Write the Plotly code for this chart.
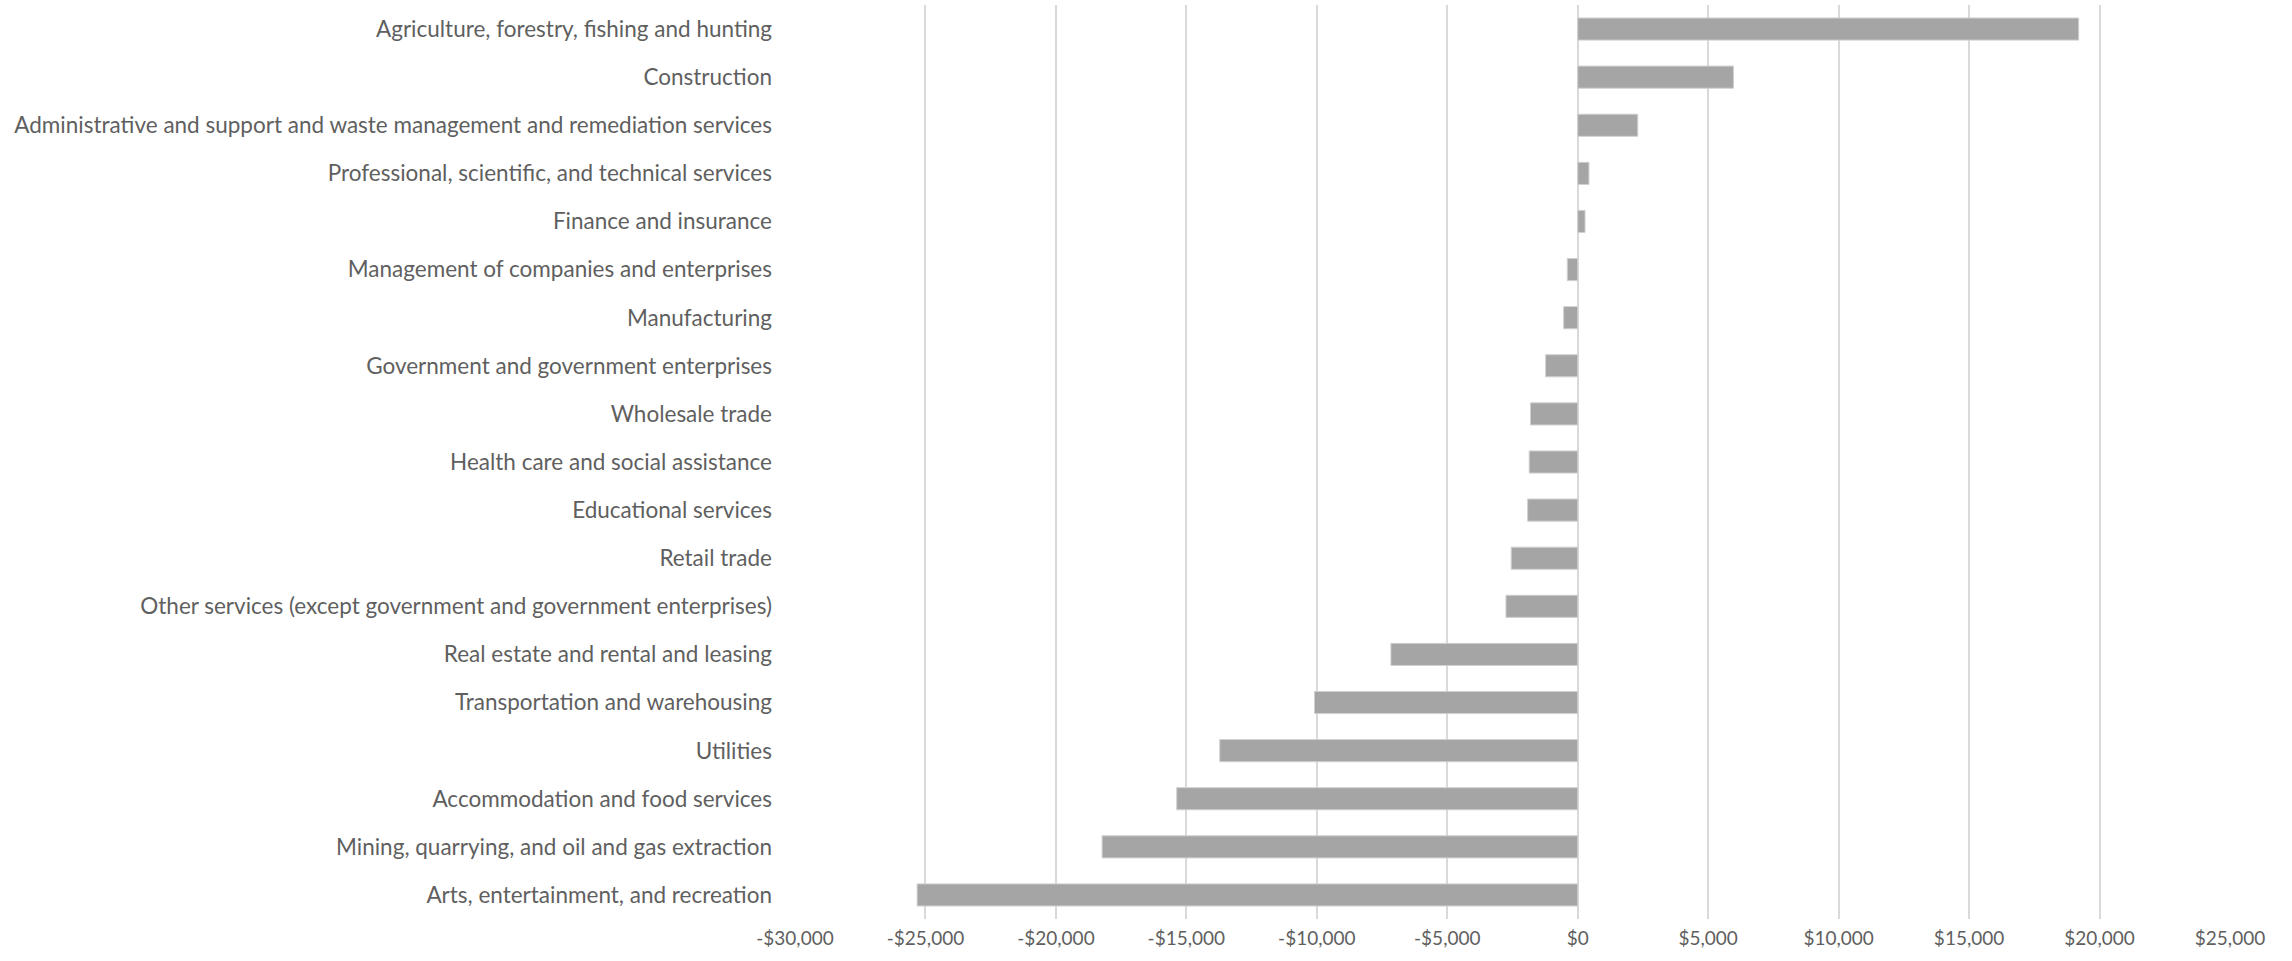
import plotly.graph_objects as go

industries = [
    "Agriculture, forestry, fishing and hunting",
    "Construction",
    "Administrative and support and waste management and remediation services",
    "Professional, scientific, and technical services",
    "Finance and insurance",
    "Management of companies and enterprises",
    "Manufacturing",
    "Government and government enterprises",
    "Wholesale trade",
    "Health care and social assistance",
    "Educational services",
    "Retail trade",
    "Other services (except government and government enterprises)",
    "Real estate and rental and leasing",
    "Transportation and warehousing",
    "Utilities",
    "Accommodation and food services",
    "Mining, quarrying, and oil and gas extraction",
    "Arts, entertainment, and recreation",
]
values = [19200, 5970, 2300, 430, 280, -400, -540, -1230, -1810, -1860, -1920,
          -2550, -2750, -7160, -10090, -13720, -15370, -18230, -25320]

tick_vals = [-30000, -25000, -20000, -15000, -10000, -5000, 0, 5000, 10000, 15000, 20000, 25000]
tick_text = ["-$30,000", "-$25,000", "-$20,000", "-$15,000", "-$10,000", "-$5,000", "$0",
             "$5,000", "$10,000", "$15,000", "$20,000", "$25,000"]

FONT = "Lato, Open Sans, sans-serif"

fig = go.Figure(go.Bar(
    y=industries, x=values, orientation="h", width=0.46,
    marker=dict(color="#A5A5A5", line=dict(color="#D0D0D0", width=1)),
))
fig.update_layout(
    width=2292, height=961,
    margin=dict(l=795, r=62, t=5, b=42),
    plot_bgcolor="white", paper_bgcolor="white",
    font=dict(family=FONT, size=22, color="#5f5f5f"),
    showlegend=False,
)
fig.update_xaxes(
    range=[-30000, 25000], tickvals=tick_vals, ticktext=tick_text,
    showgrid=True, gridcolor="#D9D9D9", gridwidth=2, zeroline=False,
    showline=False, ticks="", ticklabelstandoff=6,
    tickfont=dict(size=19, color="#5f5f5f", family=FONT),
)
fig.update_yaxes(
    autorange="reversed", showgrid=False, showline=False, ticks="",
    ticklen=0, tickfont=dict(size=22.5, color="#5f5f5f", family=FONT),
    ticklabelstandoff=22,
)
fig.write_html("out.html", config={"displayModeBar": False},
               post_script="document.body.style.margin='0';")
